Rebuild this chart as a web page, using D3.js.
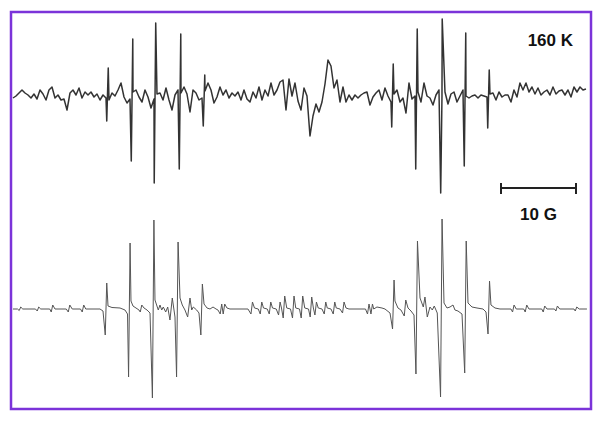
<!DOCTYPE html>
<html>
<head>
<meta charset="utf-8">
<script src="https://cdn.jsdelivr.net/npm/d3@7"></script>
<style>
  body { margin: 0; background: #fff; }
  text { font-family: "Liberation Sans", Arial, sans-serif; font-weight: bold; }
</style>
</head>
<body>
<div id="graph1"></div>
<script>
// field step (G) of the measured trace samples
const FIELD_STEP = 0.4;

// measured spectrum at 160 K: baseline samples every 0.4 G (signal, a.u.)
const measuredBase = [
  -2, 0, 3, 6, 3, 1, -2, 2, -3, 6, 2, -4, 6, 9, -2, 1, -4, -3, -14, 3,
  6, 1, 8, -2, 4, 1, 4, -1, 2, -4, 1, -2, -4, 3, 0, 6, 13, -1, -7, -3,
  4, 6, -1, -6, 6, -1, -12, -3, 2, 3, -4, 8, -4, -14, 1, 6, 3, 9, 2, -16,
  6, 3, -4, -2, 5, 13, 6, -7, -1, 9, 1, 6, -2, 3, 0, 4, -4, 6, -3, -6,
  4, -2, 9, -4, 6, 0, 13, 1, 6, 14, 16, -14, 17, 0, 13, -5, -14, 8, 0, -40,
  -20, -8, -16, -6, 12, 36, 30, 8, 16, -6, 9, -6, 1, -4, 1, -2, 1, 3, 4, -9,
  -1, 3, 6, -4, 8, 0, -6, 2, 6, -6, -2, -17, 13, -3, 0, 4, -6, 13, 0, -2,
  -9, 1, 6, 0, 4, -8, 2, 4, -6, 0, 6, 0, -2, 0, 1, -2, 1, 0, -1, 2,
  3, -4, 4, -1, 1, 1, -6, 6, -1, 13, 6, 13, 4, 9, 2, 8, 1, 4, 6, 1,
  9, 2, 5, 6, 1, 6, -1, 9, 4, 9, 6, 7
];

// measured sharp lines: [field G, low, high]
const measuredLines = [
  [12.6, -25, 28], [15.87, -65, 57], [18.93, -87, 73], [22.27, -73, 62], [25.47, -30, 21],
  [50.6, -31, 32], [53.8, -73, 67], [57.13, -97, 77], [60.27, -70, 63], [63.4, -32, 26]
];

// simulated spectrum lines: [field G, low, high]
const simLines = [
  [0.93, -1.5, 2], [3.33, -2, 2], [5.2, -3, 4], [7.47, -3, 4], [9.33, -3, 4],
  [12.4, -26, 26], [15.51, -68, 66], [17.07, -3, 4], [18.69, -89, 89], [21.91, -68, 67],
  [25.15, -26, 25], [27.73, -5, 5], [28.13, -5, 5],
  [31.83, -5, 7], [33.07, -5, 7], [34.27, -5, 7], [35.51, -6, 7], [36.13, -9, 13],
  [37.37, -9, 13], [38.53, -9, 13], [39.73, -8, 12], [40.36, -6, 7], [41.6, -5, 7],
  [42.8, -5, 7], [44.04, -4, 7],
  [47.37, -5, 5], [47.83, -5, 5], [50.71, -20, 29], [52.27, -7, 9], [53.83, -65, 68],
  [57.11, -88, 90], [60.33, -64, 68], [63.44, -25, 28],
  [66.71, -3, 4], [68.4, -3, 4], [70.8, -3, 3], [72.49, -2, 3], [75.07, -2, 2]
];

// simulated spectrum tails and baseline: [field G, signal]
const simBase = [
  [0, 0], [0.6, 0], [1.3, 0], [3.0, 0], [3.7, 0], [4.9, 0], [5.6, 0], [7.1, 0], [7.9, 0],
  [9.0, 0], [9.7, 0],
  [11.6, 0], [12.0, -2], [12.67, 3], [13.2, 1.5], [14.27, 1], [14.93, -1], [15.27, -5],
  [15.73, 8], [16.0, 3], [16.4, 1], [16.8, -1], [17.47, 1], [17.87, -1], [18.27, -4],
  [18.93, 9], [19.37, -1], [19.6, 4], [19.83, -1], [20.04, 2], [20.36, -3], [20.63, 2],
  [20.93, -11], [21.24, 11], [21.6, -8], [22.27, 11], [22.57, 4], [22.93, -1], [23.29, -8],
  [23.6, 11], [23.83, -1], [24.04, 2], [24.49, -1], [24.8, -4], [25.47, 5], [25.87, 1],
  [26.27, 0], [26.67, 2], [27.07, 0], [27.33, -1], [28.53, 1], [28.93, 0], [31.33, 0],
  [32.2, 1], [32.7, 0], [33.4, 1], [33.9, 0], [34.6, 1], [35.1, 0], [35.8, 1], [36.5, 1],
  [37.0, 0], [37.7, 1], [38.2, 0], [38.9, 1], [39.4, 0], [40.05, 1], [40.7, 1], [41.2, 0],
  [41.9, 1], [42.4, 0], [43.1, 1], [43.6, 0], [44.4, 1], [44.8, 0], [47.0, 0], [48.1, 0],
  [48.53, 2], [49.2, 1], [49.6, 0], [50.27, -4], [50.93, 8], [51.33, 1], [51.73, -1],
  [52.67, 1], [53.07, -2], [53.47, -6], [54.27, 11], [54.71, 2], [54.93, 12], [55.24, -8],
  [55.6, 2], [55.91, -1], [56.17, 3], [56.57, -4], [57.47, 6], [57.87, 1], [58.27, 2],
  [58.67, 4], [58.93, -1], [59.33, -2], [59.87, -5], [60.67, 6], [61.2, 2], [61.87, 1],
  [62.67, 0], [63.07, -3], [63.73, 4], [64.27, 1], [64.93, 0],
  [66.4, 0], [67.1, 0], [68.1, 0], [68.8, 0], [70.5, 0], [71.2, 0], [72.2, 0], [72.9, 0],
  [74.8, 0], [75.5, 0], [76.53, 0]
];

const tempLabel = "160 K";
const scaleBarLabel = "10 G";
const scaleBarStart = 65.07;  // G
const scaleBarLength = 10;    // G

const width = 604, height = 423;

let svg = d3.select("#graph1")
    .append("svg")
    .attr("width", width)
    .attr("height", height);

// frame
svg.append("rect")
    .attr("x", 11).attr("y", 12)
    .attr("width", 580).attr("height", 397)
    .attr("fill", "none")
    .attr("stroke", "#7b33d9")
    .attr("stroke-width", 2.5);

let x = d3.scaleLinear().domain([0, 76.67]).range([13, 588]);
let yTop = d3.scaleLinear().domain([-100, 100]).range([196, -4]);
let yBot = d3.scaleLinear().domain([-100, 100]).range([409, 209]);

// build vertex lists: each line is a dip then a spike
function withLines(pts, lines) {
    lines.forEach(function(l) {
        pts.push([l[0] - 0.1, l[1]]);
        pts.push([l[0] + 0.1, l[2]]);
    });
    return pts.sort(function(a, b) { return a[0] - b[0]; });
}

let measured = withLines(measuredBase.map(function(v, i) { return [i * FIELD_STEP, v]; }), measuredLines);
let simulated = withLines(simBase.slice(), simLines);

svg.append("path")
    .datum(measured)
    .attr("fill", "none")
    .attr("stroke", "#333")
    .attr("stroke-width", 1.5)
    .attr("stroke-linejoin", "round")
    .attr("d", d3.line().x(d => x(d[0])).y(d => yTop(d[1])));

svg.append("path")
    .datum(simulated)
    .attr("fill", "none")
    .attr("stroke", "#555")
    .attr("stroke-width", 1)
    .attr("stroke-linejoin", "round")
    .attr("d", d3.line().x(d => x(d[0])).y(d => yBot(d[1])));

// temperature label
svg.append("text")
    .attr("x", 573).attr("y", 46)
    .style("text-anchor", "end")
    .style("font-size", 17)
    .attr("fill", "#111")
    .text(tempLabel);

// scale bar
let bar = svg.append("g").attr("stroke", "#222").attr("stroke-width", 2);
let x0 = x(scaleBarStart), x1 = x(scaleBarStart + scaleBarLength);
bar.append("line").attr("x1", x0).attr("x2", x1).attr("y1", 188).attr("y2", 188);
bar.append("line").attr("x1", x0).attr("x2", x0).attr("y1", 183).attr("y2", 194);
bar.append("line").attr("x1", x1).attr("x2", x1).attr("y1", 183).attr("y2", 194);

svg.append("text")
    .attr("x", (x0 + x1) / 2).attr("y", 220)
    .style("text-anchor", "middle")
    .style("font-size", 17)
    .attr("fill", "#111")
    .text(scaleBarLabel);
</script>
</body>
</html>
